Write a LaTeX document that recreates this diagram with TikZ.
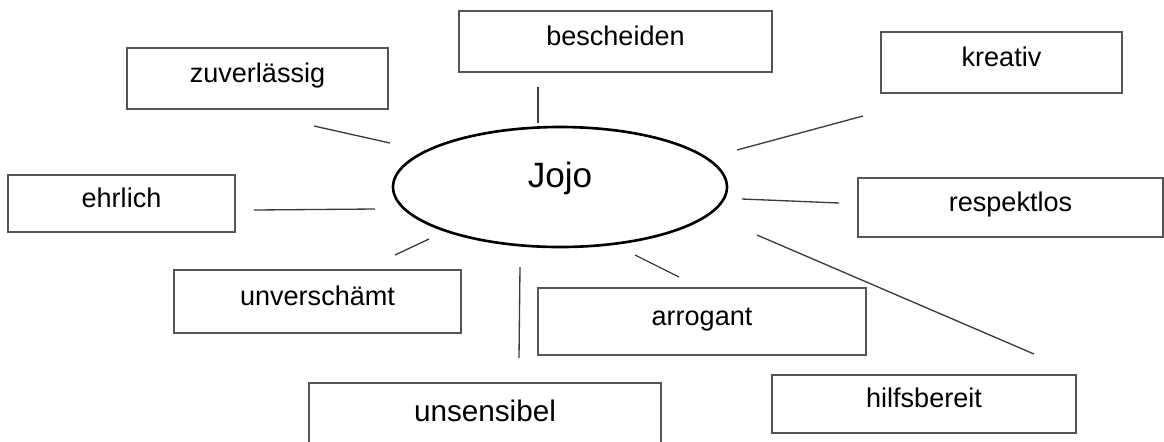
\documentclass[tikz,border=0pt]{standalone}
\usepackage{fontspec}
\setmainfont{Liberation Sans}
\usetikzlibrary{shapes.geometric}
\definecolor{boxgray}{HTML}{555555}
\definecolor{linegray}{HTML}{3A3A3A}
\def\px{0.02cm}
\tikzset{
	wordbox/.style 2 args={draw=boxgray,line width=0.85pt,rectangle,inner sep=0pt,
		minimum width=#1*\px,minimum height=#2*\px,text height=11pt,text depth=7pt,
		font=\fontsize{15.4}{18}\selectfont},
	hub/.style={ellipse,draw,line width=1.5pt,inner sep=0pt,minimum width=334*\px,
		minimum height=120*\px,text height=14pt,text depth=13pt,font=\fontsize{20}{24}\selectfont},
	spoke/.style={draw=linegray,line width=0.75pt}
}
\begin{document}
\begin{tikzpicture}[x=\px,y=-\px]
	\useasboundingbox (0,0) rectangle (1164,441);
	\clip (0,0) rectangle (1164,441);
	\node[hub] (jojo) at (560,187) {Jojo};
	\node[wordbox={313}{61}] (besch) at (615.5,41.5) {bescheiden};
	\node[wordbox={261}{61}] (zuv) at (257.5,78.5) {zuverlässig};
	\node[wordbox={241}{61}] (krea) at (1001.5,62.5) {kreativ};
	\node[wordbox={227}{57}] (ehr) at (121.5,203.5) {ehrlich};
	\node[wordbox={305}{59}] (resp) at (1010.5,207.5) {respektlos};
	\node[wordbox={287}{63}] (unv) at (317.5,301.5) {unverschämt};
	\node[wordbox={328}{67}] (arr) at (702,321.5) {arrogant};
	\node[wordbox={304}{58}] (hilf) at (924,404) {hilfsbereit};
	\node[wordbox={352}{70},font=\fontsize{16.9}{20}\selectfont] (uns) at (485,418) {unsensibel}; % cut off at the bottom
	% loose spokes, they touch neither the ellipse nor the boxes
	\coordinate (besch-a) at (538,87);   \coordinate (besch-b) at (538,123);
	\coordinate (zuv-a) at (314,126);    \coordinate (zuv-b) at (390,143);
	\coordinate (krea-a) at (863,116);   \coordinate (krea-b) at (737,150);
	\coordinate (ehr-a) at (254,210);    \coordinate (ehr-b) at (375,209);
	\coordinate (resp-a) at (839,203);   \coordinate (resp-b) at (742,199);
	\coordinate (unv-a) at (395,255);    \coordinate (unv-b) at (429,239);
	\coordinate (uns-a) at (519,358);    \coordinate (uns-b) at (520,267);
	\coordinate (arr-a) at (679,277);    \coordinate (arr-b) at (635,255);
	\coordinate (hilf-a) at (1034,354);  \coordinate (hilf-b) at (757,235);
	\foreach \w in {besch,zuv,krea,ehr,resp,unv,uns,arr,hilf}
		\draw[spoke] (\w-a) -- (\w-b);
\end{tikzpicture}
\end{document}
